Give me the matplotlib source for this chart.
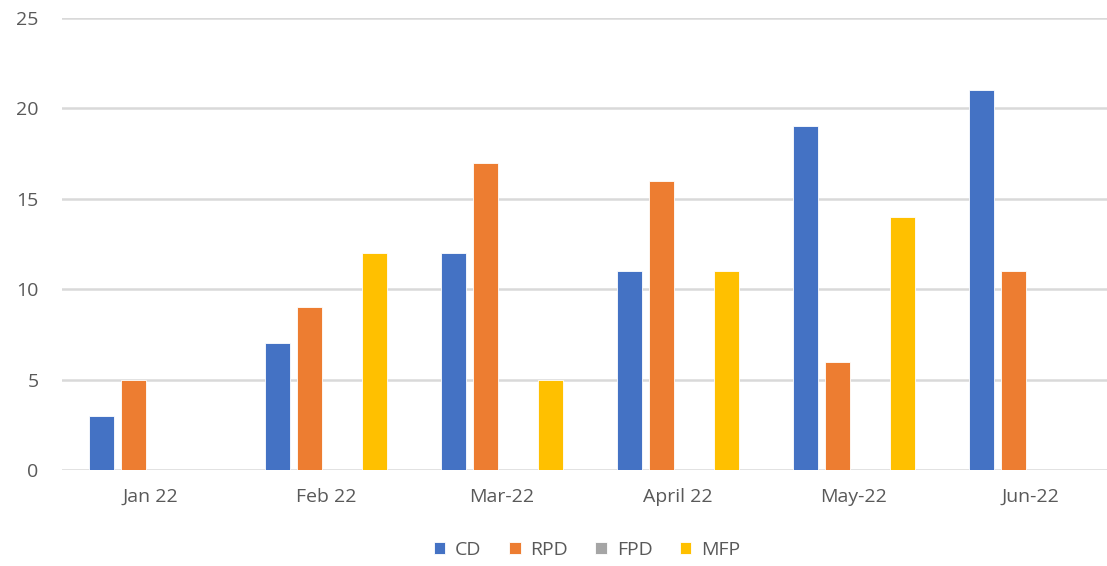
import numpy as np
import matplotlib.pyplot as plt

months = ['Jan 22', 'Feb 22', 'Mar-22', 'April 22', 'May-22', 'Jun-22']
cd = [3, 7, 12, 11, 19, 21]
rpd = [5, 9, 17, 16, 6, 11]
fpd = [0, 0, 0, 0, 0, 0]
mfp = [0, 12, 5, 11, 14, 0]

series = [('CD', cd, '#4472C4'), ('RPD', rpd, '#ED7D31'),
          ('FPD', fpd, '#A5A5A5'), ('MFP', mfp, '#FFC000')]

plt.rcParams['font.family'] = ['Open Sans', 'DejaVu Sans']

fig = plt.figure(figsize=(11.07, 5.66), dpi=100)
W, H = 1107, 566
left, right = 62, 1118
top, bottom = 18, 470
ax = fig.add_axes([left / W, (H - bottom) / H, (right - left) / W, (bottom - top) / H])

x = np.arange(len(months))
pitch = 0.182
width = 0.142
for i, (name, vals, col) in enumerate(series):
    ax.bar(x + (i - 1.5) * pitch, vals, width, color=col, label=name,
           edgecolor='white', linewidth=0.6, zorder=3)

ax.set_xlim(-0.5, 5.5)
ax.set_ylim(0, 25)
ax.set_yticks([0, 5, 10, 15, 20, 25])
ax.set_xticks(x)
ax.set_xticklabels(months)
ax.yaxis.grid(True, color='#D9D9D9', linewidth=1.8, zorder=0)
ax.set_axisbelow(True)
for s in ax.spines.values():
    s.set_visible(False)
ax.tick_params(length=0, colors='#595959', labelsize=14)
ax.tick_params(axis='y', pad=17)
ax.tick_params(axis='x', pad=13)

ax.legend(loc='center', bbox_to_anchor=(587 / W, 1 - 550 / H), bbox_transform=fig.transFigure,
          ncol=4, frameon=False, fontsize=14, labelcolor='#595959',
          handlelength=0.6, handleheight=0.6, handletextpad=0.5, columnspacing=1.4)

fig.savefig('out.png', dpi=100)
